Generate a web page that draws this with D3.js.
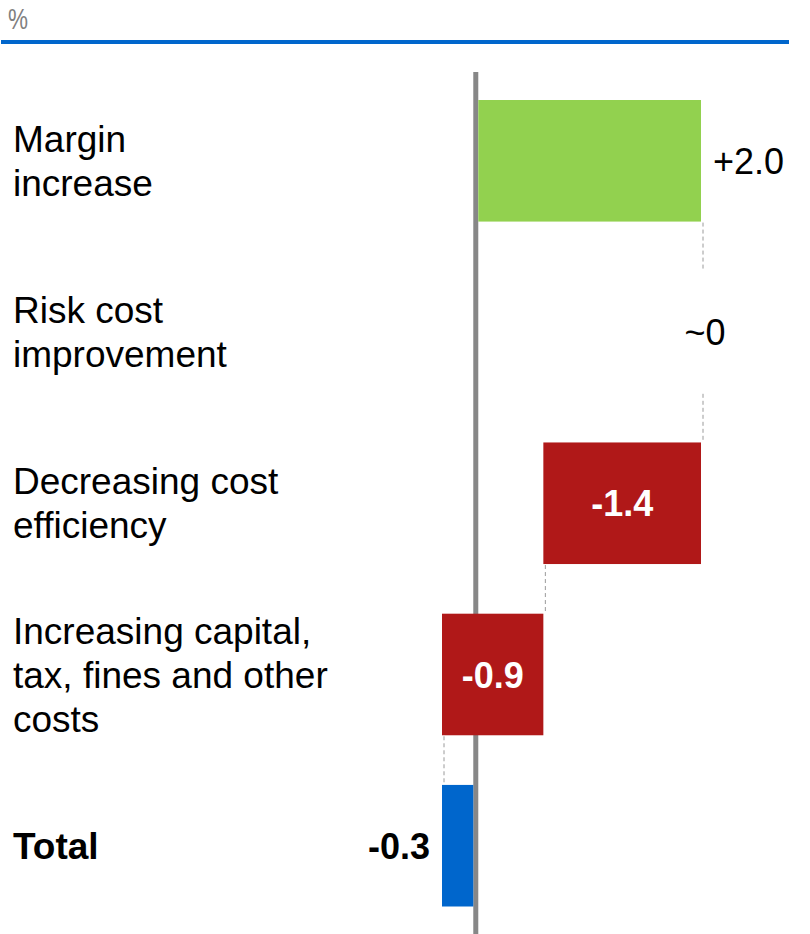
<!DOCTYPE html>
<html>
<head>
<meta charset="utf-8">
<script src="https://cdn.jsdelivr.net/npm/d3@7"></script>
<style>
  html, body { margin: 0; padding: 0; background: #ffffff; }
  svg { display: block; font-family: "Liberation Sans", Arial, sans-serif; }
</style>
</head>
<body>
<svg id="chart" width="810" height="934"></svg>
<script>
// Waterfall of contributions (percentage points)
const categories = [
  ["Margin", "increase"],
  ["Risk cost", "improvement"],
  ["Decreasing cost", "efficiency"],
  ["Increasing capital,", "tax, fines and other", "costs"],
  ["Total"]
];
const deltas = [2.0, 0.0, -1.4, -0.9];
const valueLabels = ["+2.0", "~0", "-1.4", "-0.9", "-0.3"];
const total = -0.3;
const unitLabel = "%";

const GREEN = "#92D14F", RED = "#B01818", BLUE = "#0066CC", GREY = "#878787";
const FONT = 37, LINE = 44, CAP = FONT * 0.716;

const svg = d3.select("#chart");

// Build the waterfall steps from the deltas
let cum = 0;
const steps = deltas.map((d, i) => {
  const start = cum; cum += d;
  return { i, start, end: cum, value: d, kind: d > 0 ? "pos" : (d < 0 ? "neg" : "zero") };
});
steps.push({ i: deltas.length, start: 0, end: total, value: total, kind: "total" });

const y = d3.scaleBand()
  .domain(d3.range(categories.length))
  .range([100, 906.5])
  .paddingInner(0.29)
  .paddingOuter(0);

const x = d3.scaleLinear().domain([-0.3, 2.0]).range([442, 701]);
const x0 = x(0);
const axisHalf = 2.5;

// Header: unit and rule
svg.append("text")
  .attr("x", 8).attr("y", 29)
  .attr("font-size", 30)
  .attr("fill", "#808080")
  .attr("transform", "translate(8,0) scale(0.75,1) translate(-8,0)")
  .text(unitLabel);
svg.append("rect")
  .attr("x", 1).attr("y", 40).attr("width", 788).attr("height", 4)
  .attr("fill", BLUE);

// Zero axis
svg.append("rect")
  .attr("x", x0 - axisHalf).attr("y", 72)
  .attr("width", axisHalf * 2).attr("height", 934 - 72)
  .attr("fill", GREY);

// Connectors between consecutive bars
const conn = svg.append("g")
  .attr("stroke", "#9a9a9a").attr("stroke-width", 1)
  .attr("stroke-dasharray", "4,3").attr("fill", "none");
steps.slice(0, -1).forEach((s, k) => {
  const xc = x(s.end);
  conn.append("line")
    .attr("x1", xc + 2).attr("x2", xc + 2)
    .attr("y1", y(k) + y.bandwidth() + 1)
    .attr("y2", y(k + 1) - 1);
});

// Bars
const colorOf = s => s.kind === "pos" ? GREEN : s.kind === "total" ? BLUE : RED;
steps.filter(s => s.kind !== "zero").forEach(s => {
  let lo = Math.min(x(s.start), x(s.end));
  let hi = Math.max(x(s.start), x(s.end));
  if (s.start === 0 && s.end > 0) lo = x0 + axisHalf;
  if (s.start === 0 && s.end < 0) hi = x0 - axisHalf;
  svg.append("rect")
    .attr("x", lo).attr("y", y(s.i))
    .attr("width", hi - lo).attr("height", y.bandwidth())
    .attr("fill", colorOf(s));
});

// Value labels
steps.forEach(s => {
  const cy = y(s.i) + y.bandwidth() / 2 + CAP / 2;
  const t = svg.append("text").attr("y", cy).attr("font-size", 36).text(valueLabels[s.i]);
  if (s.kind === "pos") {
    t.attr("x", x(s.end) + 12).attr("text-anchor", "start").attr("fill", "#000");
  } else if (s.kind === "zero") {
    t.attr("x", x(s.end) + 4).attr("text-anchor", "middle").attr("fill", "#000");
  } else if (s.kind === "neg") {
    t.attr("x", (x(s.start) + x(s.end)) / 2).attr("text-anchor", "middle")
      .attr("fill", "#fff").attr("font-weight", "bold");
  } else {
    t.attr("x", x(s.end) - 12).attr("text-anchor", "end")
      .attr("fill", "#000").attr("font-weight", "bold");
  }
});

// Category labels
categories.forEach((lines, i) => {
  const cy = y(i) + y.bandwidth() / 2;
  const first = cy - (lines.length - 1) * LINE / 2 + CAP / 2;
  const t = svg.append("text")
    .attr("x", 13).attr("font-size", FONT).attr("fill", "#000")
    .attr("font-weight", i === categories.length - 1 ? "bold" : "normal");
  lines.forEach((ln, j) => {
    t.append("tspan").attr("x", 13).attr("y", first + j * LINE).text(ln);
  });
});
</script>
</body>
</html>
